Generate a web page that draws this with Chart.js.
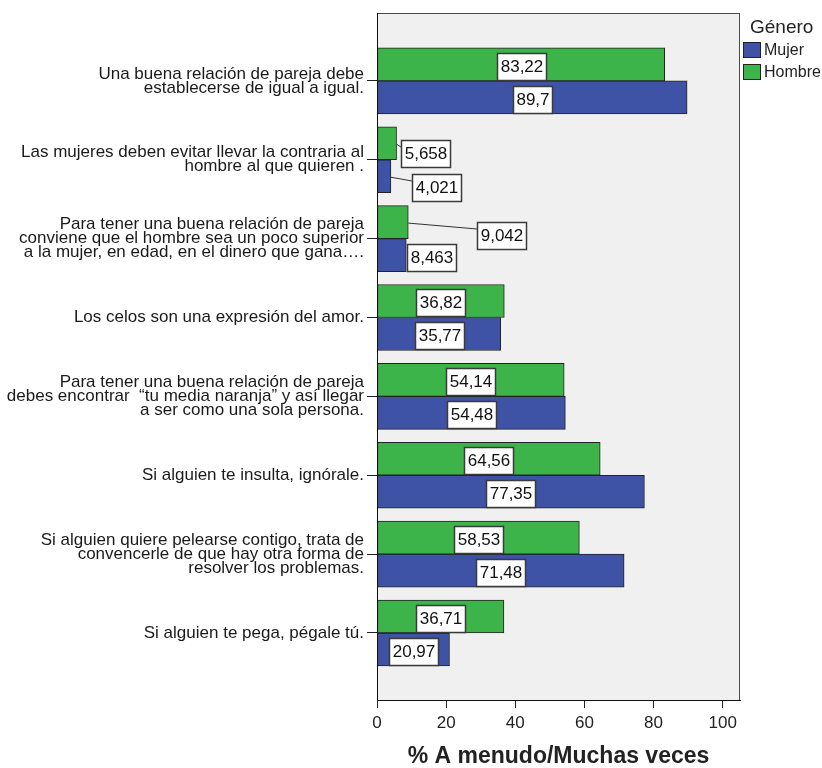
<!DOCTYPE html>
<html>
<head>
<meta charset="utf-8">
<script src="https://cdn.jsdelivr.net/npm/chart.js@4.4.1/dist/chart.umd.min.js"></script>
<style>
html,body{margin:0;padding:0;background:#fff;}
canvas{display:block;}
</style>
</head>
<body>
<canvas id="c" width="822" height="768"></canvas>
<script>
// ---- data ----
const categories = [
  ["Una buena relación de pareja debe", "establecerse de igual a igual."],
  ["Las mujeres deben evitar llevar la contraria al", "hombre al que quieren ."],
  ["Para tener una buena relación de pareja", "conviene que el hombre sea un poco superior", "a la mujer, en edad, en el dinero que gana…."],
  ["Los celos son una expresión del amor."],
  ["Para tener una buena relación de pareja", "debes encontrar  “tu media naranja” y así llegar", "a ser como una sola persona."],
  ["Si alguien te insulta, ignórale."],
  ["Si alguien quiere pelearse contigo, trata de", "convencerle de que hay otra forma de", "resolver los problemas."],
  ["Si alguien te pega, pégale tú."]
];
const hombre = [83.22, 5.658, 9.042, 36.82, 54.14, 64.56, 58.53, 36.71];
const mujer  = [89.7, 4.021, 8.463, 35.77, 54.48, 77.35, 71.48, 20.97];
const xTicks = [0, 20, 40, 60, 80, 100];
const seriesNames = ["Hombre", "Mujer"];
const legendTitle = "Género";
const xTitle = "% A menudo/Muchas veces";

// ---- styling ----
const FONT = '"Liberation Sans", Arial, Helvetica, sans-serif';
const GREEN = '#3cb44a';
const BLUE = '#3e52a6';

// label placement for bars too short to hold their label (relative to bar end)
const outsidePlacement = {
  0: { 1: {dx: 4.5, dy: 10, leader: true}, 2: {dx: 69, dy: 13, leader: true} },
  1: { 1: {dx: 21, dy: 11, leader: true}, 2: {dx: 1, dy: 2, leader: false} }
};

const fmt = v => String(v).replace('.', ',');

const bgPlugin = {
  id: 'plotBg',
  beforeDraw(chart) {
    const {ctx, chartArea: a} = chart;
    ctx.save();
    ctx.fillStyle = '#f0f0f0';
    ctx.fillRect(a.left, a.top, a.right - a.left, a.bottom - a.top);
    ctx.restore();
  },
  afterDatasetsDraw(chart) {
    const {ctx, chartArea: a} = chart;
    ctx.save();
    ctx.strokeStyle = '#4a4a4a';
    ctx.lineWidth = 1;
    ctx.strokeRect(a.left + 0.5, a.top + 0.5, a.right - a.left - 1, a.bottom - a.top);
    ctx.strokeStyle = '#111';
    ctx.beginPath();
    ctx.moveTo(a.left + 0.5, a.top);
    ctx.lineTo(a.left + 0.5, a.bottom);
    ctx.moveTo(a.left, a.bottom + 0.5);
    ctx.lineTo(a.right, a.bottom + 0.5);
    ctx.stroke();
    ctx.restore();
  }
};

const labelPlugin = {
  id: 'valueBoxes',
  afterDatasetsDraw(chart) {
    const ctx = chart.ctx;
    ctx.save();
    ctx.font = '17px ' + FONT;
    ctx.textBaseline = 'middle';
    ctx.textAlign = 'center';
    chart.data.datasets.forEach((ds, di) => {
      const meta = chart.getDatasetMeta(di);
      meta.data.forEach((bar, i) => {
        const txt = fmt(ds.data[i].x);
        const tw = ctx.measureText(txt).width;
        const bw = Math.round(tw + 6), bh = 27;
        const place = outsidePlacement[di] && outsidePlacement[di][i];
        let bx, cy;
        if (place) {
          bx = Math.round(bar.x + place.dx);
          cy = Math.round(bar.y + place.dy);
          if (place.leader) {
            ctx.strokeStyle = '#333';
            ctx.lineWidth = 1;
            ctx.beginPath();
            ctx.moveTo(bar.x, bar.y + 1);
            ctx.lineTo(bx, cy - 6);
            ctx.stroke();
          }
        } else {
          bx = Math.round((bar.x + bar.base) / 2 - bw / 2);
          cy = Math.round(bar.y + 1.5);
        }
        const by = Math.round(cy - bh / 2);
        ctx.fillStyle = '#ffffff';
        ctx.fillRect(bx, by, bw, bh);
        ctx.strokeStyle = '#3a3a3a';
        ctx.lineWidth = 1.5;
        ctx.strokeRect(bx + 0.5, by + 0.5, bw, bh);
        ctx.fillStyle = '#111';
        ctx.fillText(txt, bx + bw / 2 + 0.5, cy + 1);
      });
    });
    ctx.restore();
  }
};

const legendPlugin = {
  id: 'customLegend',
  afterDraw(chart) {
    const ctx = chart.ctx;
    ctx.save();
    ctx.fillStyle = '#222';
    ctx.textBaseline = 'middle';
    ctx.textAlign = 'left';
    ctx.font = '19px ' + FONT;
    ctx.fillText(legendTitle, 750, 28);
    ctx.font = '16px ' + FONT;
    const order = [1, 0];
    order.forEach((di, k) => {
      const ds = chart.data.datasets[di];
      const y = 42 + k * 22;
      ctx.fillStyle = ds.backgroundColor;
      ctx.fillRect(743, y, 18, 16);
      ctx.strokeStyle = '#222';
      ctx.lineWidth = 1;
      ctx.strokeRect(743.5, y + 0.5, 17, 15);
      ctx.fillStyle = '#222';
      ctx.fillText(ds.label, 764, y + 9);
    });
    ctx.restore();
  }
};

const n = categories.length;
new Chart(document.getElementById('c'), {
  type: 'bar',
  data: {
    datasets: [
      { label: seriesNames[0], data: hombre.map((v, i) => ({x: v, y: i + 1})),
        backgroundColor: GREEN, borderColor: '#222', borderWidth: 1, borderSkipped: false,
        barThickness: 33 },
      { label: seriesNames[1], data: mujer.map((v, i) => ({x: v, y: i + 1})),
        backgroundColor: BLUE, borderColor: '#222', borderWidth: 1, borderSkipped: false,
        barThickness: 33 }
    ]
  },
  options: {
    indexAxis: 'y',
    responsive: false,
    animation: false,
    devicePixelRatio: 1,
    layout: { padding: { top: 13, right: 82, left: 0, bottom: 0 } },
    plugins: { legend: { display: false }, tooltip: { enabled: false } },
    scales: {
      y: {
        type: 'linear',
        reverse: true,
        offset: false,
        min: 1 - 0.86,
        max: n + 0.85,
        afterBuildTicks: s => { s.ticks = categories.map((c, i) => ({value: i + 1})); },
        afterFit: s => { s.width = 377; },
        ticks: {
          autoSkip: false,
          callback: v => categories[v - 1],
          font: { family: FONT, size: 17, lineHeight: '14px' },
          color: '#1a1a1a',
          padding: 3
        },
        grid: { offset: false, drawOnChartArea: false, drawTicks: true, tickLength: 10, color: '#222', lineWidth: 1 },
        border: { display: true, color: '#111', width: 1 }
      },
      x: {
        type: 'linear',
        min: 0,
        max: 105,
        afterBuildTicks: s => { s.ticks = xTicks.map(v => ({value: v})); },
        afterFit: s => { s.height = 68; },
        ticks: {
          font: { family: FONT, size: 17 },
          color: '#222',
          padding: 5
        },
        grid: { drawOnChartArea: false, drawTicks: true, tickLength: 8, color: '#222', lineWidth: 1 },
        border: { display: true, color: '#111', width: 1 },
        title: {
          display: true,
          text: xTitle,
          font: { family: FONT, size: 23, weight: 'bold', lineHeight: 1.0 },
          color: '#222',
          padding: { top: 0, bottom: 0 }
        }
      }
    }
  },
  plugins: [bgPlugin, labelPlugin, legendPlugin]
});
</script>
</body>
</html>
